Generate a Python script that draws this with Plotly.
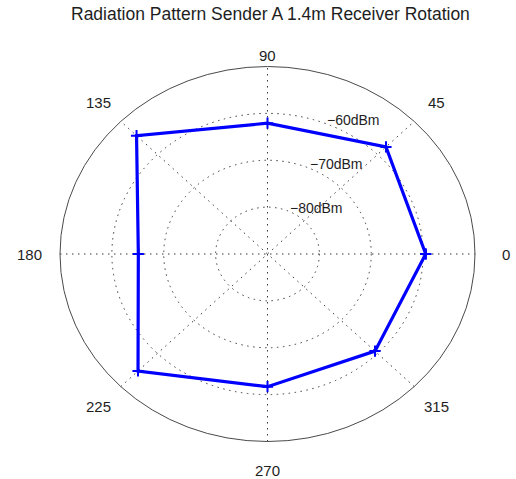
import numpy as np
import plotly.graph_objects as go

# Received power vs. receiver rotation
angles_deg = [0, 45, 90, 135, 180, 225, 270, 315]
power_dbm = [-59.5, -57.7, -62.1, -54.3, -65.1, -54.7, -61.7, -60.7]

# Radial scale: dBm shifted so that -90 dBm sits at the centre
dbm_floor = -90
ring_dbm = [-80, -70, -60]
outer_dbm = -50
spoke_deg = [0, 45, 90, 135]
angle_labels = ["0", "45", "90", "135", "180", "225", "270", "315"]
title_text = "Radiation Pattern Sender A 1.4m Receiver Rotation"

rmax = outer_dbm - dbm_floor

# polar -> cartesian
theta = np.deg2rad(angles_deg + angles_deg[:1])
rho = np.array(power_dbm + power_dbm[:1]) - dbm_floor
xs = rho * np.cos(theta)
ys = rho * np.sin(theta)

grid_col = "#3a3a3a"
text_col = "#1e1e1e"
font_family = "Liberation Sans, Arial, sans-serif"

shapes = []
# dotted range rings
for d in ring_dbm:
    r = d - dbm_floor
    shapes.append(dict(type="circle", xref="x", yref="y", x0=-r, x1=r, y0=-r, y1=r,
                       line=dict(color=grid_col, width=1, dash="1.5px,4.5px"), layer="below"))
# dotted spokes
for a in spoke_deg:
    c, s = np.cos(np.deg2rad(a)), np.sin(np.deg2rad(a))
    shapes.append(dict(type="line", xref="x", yref="y",
                       x0=-rmax * c, y0=-rmax * s, x1=rmax * c, y1=rmax * s,
                       line=dict(color=grid_col, width=1, dash="1.5px,4.5px"), layer="below"))
# solid outer boundary
shapes.append(dict(type="circle", xref="x", yref="y", x0=-rmax, x1=rmax, y0=-rmax, y1=rmax,
                   line=dict(color="#4a4a4a", width=1), layer="below"))

fig = go.Figure()
fig.add_trace(go.Scatter(
    x=xs, y=ys, mode="lines+markers",
    line=dict(color="#0000ff", width=3.2),
    marker=dict(symbol="cross-thin", size=8, color="#0000ff",
                line=dict(color="#0000ff", width=2)),
    hoverinfo="skip", showlegend=False,
))

annotations = []
# angle labels around the boundary
label_pos = {
    "0": (45.9, 0.0), "45": (32.6, 32.3), "90": (0.0, 42.45), "135": (-32.5, 32.3),
    "180": (-45.9, 0.0), "225": (-32.5, -32.6), "270": (0.0, -46.1), "315": (32.6, -32.6),
}
for lab in angle_labels:
    x, y = label_pos[lab]
    annotations.append(dict(x=x, y=y, xref="x", yref="y", text=lab, showarrow=False,
                            xanchor="center", yanchor="middle",
                            font=dict(family=font_family, size=15, color=text_col)))
# ring labels
ring_label_pos = {-60: (11.1, 28.6), -70: (7.8, 19.2), -80: (3.95, 9.8)}
for d in ring_dbm:
    x, y = ring_label_pos[d]
    annotations.append(dict(x=x, y=y, xref="x", yref="y", text=f"\u2212{abs(d)}dBm",
                            showarrow=False, xanchor="left", yanchor="middle",
                            font=dict(family=font_family, size=14, color=text_col)))
# title
annotations.append(dict(x=270 / 516, y=1 - 14.5 / 479, xref="paper", yref="paper",
                        text=title_text, showarrow=False, xanchor="center", yanchor="middle",
                        font=dict(family=font_family, size=17.5, color=text_col)))

# pixel scale: 207.5 px horizontal and 187.5 px vertical per rmax, centre at (267.5, 254)
px_x = 207.5 / rmax
px_y = 187.5 / rmax
W, H = 516, 479
fig.update_layout(
    width=W, height=H,
    margin=dict(l=0, r=0, t=0, b=0),
    paper_bgcolor="white", plot_bgcolor="white",
    xaxis=dict(range=[-267.5 / px_x, (W - 267.5) / px_x], visible=False, fixedrange=True),
    yaxis=dict(range=[-(H - 254) / px_y, 254 / px_y], visible=False, fixedrange=True),
    shapes=shapes, annotations=annotations, showlegend=False,
)

fig.write_html("out.html")
